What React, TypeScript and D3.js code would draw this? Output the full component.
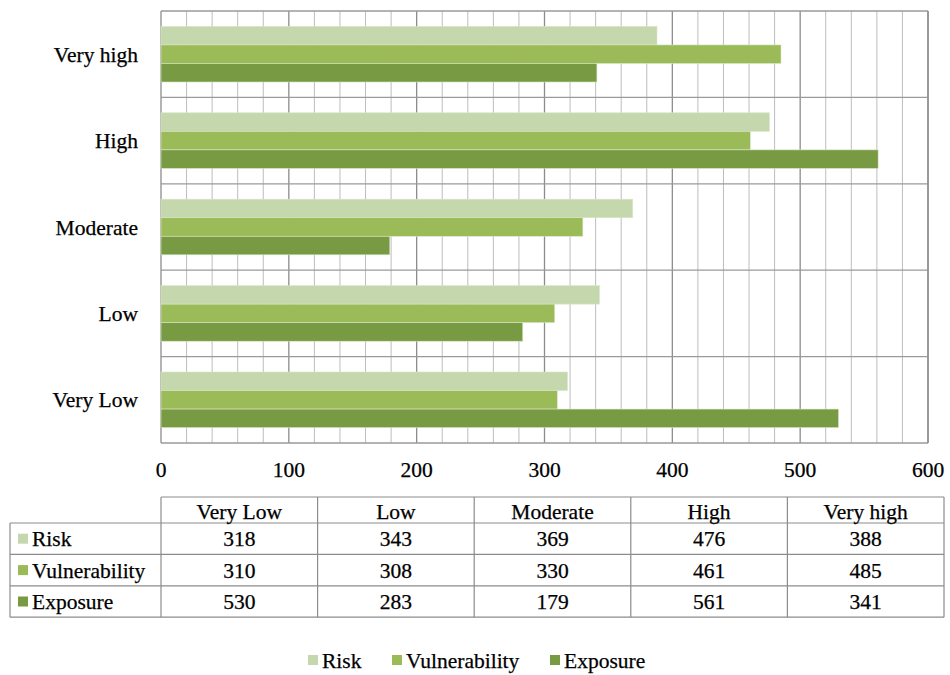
import React from "react";
import * as d3 from "d3";

const categories = ["Very Low", "Low", "Moderate", "High", "Very high"];
const seriesNames = ["Risk", "Vulnerability", "Exposure"];
const riskValues = [318, 343, 369, 476, 388];
const vulnerabilityValues = [310, 308, 330, 461, 485];
const exposureValues = [530, 283, 179, 561, 341];
const xTicks = [0, 100, 200, 300, 400, 500, 600];
const seriesColors = ["#c5d8ad", "#9bbb59", "#789a42"];

const W = 950;
const H = 675;
const FONT = "'Liberation Serif', 'Times New Roman', Times, serif";
const FS = 21.5;
const TEXT_COLOR = "#000";
const TEXT_STROKE = { stroke: "#000", strokeWidth: 0.25 };

export default function App() {
  const series = [riskValues, vulnerabilityValues, exposureValues];
  const plot = { left: 161, right: 928, top: 11, bottom: 443 };

  const x = d3.scaleLinear().domain([0, 600]).range([plot.left, plot.right]);
  // Very Low at the bottom, Very high at the top
  const y = d3
    .scaleBand<string>()
    .domain([...categories].reverse())
    .range([plot.top, plot.bottom]);
  const inner = d3
    .scaleBand<string>()
    .domain(seriesNames)
    .range([0, y.bandwidth()])
    .paddingOuter(0.83)
    .paddingInner(0);

  const minor = d3.range(0, 601, 20);

  // table layout
  const tLeft = 10;
  const tColStart = 161;
  const tRight = 944;
  const colW = (tRight - tColStart) / categories.length;
  const headTop = 497;
  const headBottom = 523;
  const rowH = 31.4;

  return (
    <svg width={W} height={H} style={{ display: "block", position: "absolute", left: 0, top: 0 }}>
      <rect x={0} y={0} width={W} height={H} fill="#fff" />
      {/* vertical grid */}
      {minor.map((v) => (
        <line
          key={"g" + v}
          x1={x(v)}
          x2={x(v)}
          y1={plot.top}
          y2={plot.bottom}
          stroke={v % 100 === 0 ? "#8c8c8c" : "#bdbdbd"}
          strokeWidth={v % 100 === 0 ? 1.3 : 1}
        />
      ))}
      {/* horizontal band lines */}
      {d3.range(0, categories.length + 1).map((i) => {
        const yy = plot.top + i * y.step();
        return (
          <line key={"h" + i} x1={plot.left} x2={plot.right} y1={yy} y2={yy} stroke="#9a9a9a" strokeWidth={1.3} />
        );
      })}
      <line x1={plot.right} x2={plot.right} y1={plot.top} y2={plot.bottom} stroke="#8c8c8c" strokeWidth={1.3} />
      {/* bars */}
      {categories.map((c, ci) =>
        seriesNames.map((s, si) => (
          <rect
            key={c + s}
            x={x(0)}
            y={(y(c) as number) + (inner(s) as number)}
            width={x(series[si][ci]) - x(0)}
            height={inner.bandwidth()}
            fill={seriesColors[si]}
            stroke="#d9e6c8"
            strokeWidth={0.6}
          />
        ))
      )}
      {/* category labels */}
      {categories.map((c) => (
        <text
          key={"c" + c}
          x={138}
          y={(y(c) as number) + y.bandwidth() / 2}
          dy="0.35em"
          textAnchor="end"
          fontFamily={FONT}
          fontSize={FS}
          fill={TEXT_COLOR}
          {...TEXT_STROKE}
        >
          {c}
        </text>
      ))}
      {/* x tick labels */}
      {xTicks.map((t) => (
        <text
          key={"t" + t}
          x={x(t)}
          y={477}
          textAnchor="middle"
          fontFamily={FONT}
          fontSize={FS}
          fill={TEXT_COLOR}
          {...TEXT_STROKE}
        >
          {t}
        </text>
      ))}
      {/* data table */}
      <g stroke="#8c8c8c" strokeWidth={1.2} fill="none">
        <line x1={tColStart} x2={tRight} y1={headTop} y2={headTop} />
        <line x1={tLeft} x2={tRight} y1={headBottom} y2={headBottom} />
        {seriesNames.map((s, i) => (
          <line
            key={"rl" + s}
            x1={tLeft}
            x2={tRight}
            y1={headBottom + (i + 1) * rowH}
            y2={headBottom + (i + 1) * rowH}
          />
        ))}
        <line x1={tLeft} x2={tLeft} y1={headBottom} y2={headBottom + 3 * rowH} />
        {d3.range(0, categories.length + 1).map((i) => (
          <line
            key={"cl" + i}
            x1={tColStart + i * colW}
            x2={tColStart + i * colW}
            y1={headTop}
            y2={headBottom + 3 * rowH}
          />
        ))}
      </g>
      {categories.map((c, i) => (
        <text
          key={"th" + c}
          x={tColStart + (i + 0.5) * colW}
          y={(headTop + headBottom) / 2 + 1}
          dy="0.35em"
          textAnchor="middle"
          fontFamily={FONT}
          fontSize={FS}
          fill={TEXT_COLOR}
          {...TEXT_STROKE}
        >
          {c}
        </text>
      ))}
      {seriesNames.map((s, si) => {
        const cy = headBottom + (si + 0.5) * rowH;
        return (
          <g key={"row" + s}>
            <rect x={18} y={cy - 5} width={10} height={10} fill={seriesColors[si]} />
            <text x={32} y={cy} dy="0.35em" fontFamily={FONT} fontSize={FS} fill={TEXT_COLOR} {...TEXT_STROKE}>
              {s}
            </text>
            {series[si].map((v, ci) => (
              <text
                key={s + ci}
                x={tColStart + (ci + 0.5) * colW}
                y={cy}
                dy="0.35em"
                textAnchor="middle"
                fontFamily={FONT}
                fontSize={FS}
                fill={TEXT_COLOR}
                {...TEXT_STROKE}
              >
                {v}
              </text>
            ))}
          </g>
        );
      })}
      {/* legend */}
      {seriesNames.map((s, si) => {
        const lx = [308, 392, 550][si];
        return (
          <g key={"lg" + s}>
            <rect x={lx} y={655} width={10} height={10} fill={seriesColors[si]} />
            <text
              x={lx + 14}
              y={660}
              dy="0.35em"
              fontFamily={FONT}
              fontSize={FS}
              fill={TEXT_COLOR}
              {...TEXT_STROKE}
            >
              {s}
            </text>
          </g>
        );
      })}
    </svg>
  );
}
